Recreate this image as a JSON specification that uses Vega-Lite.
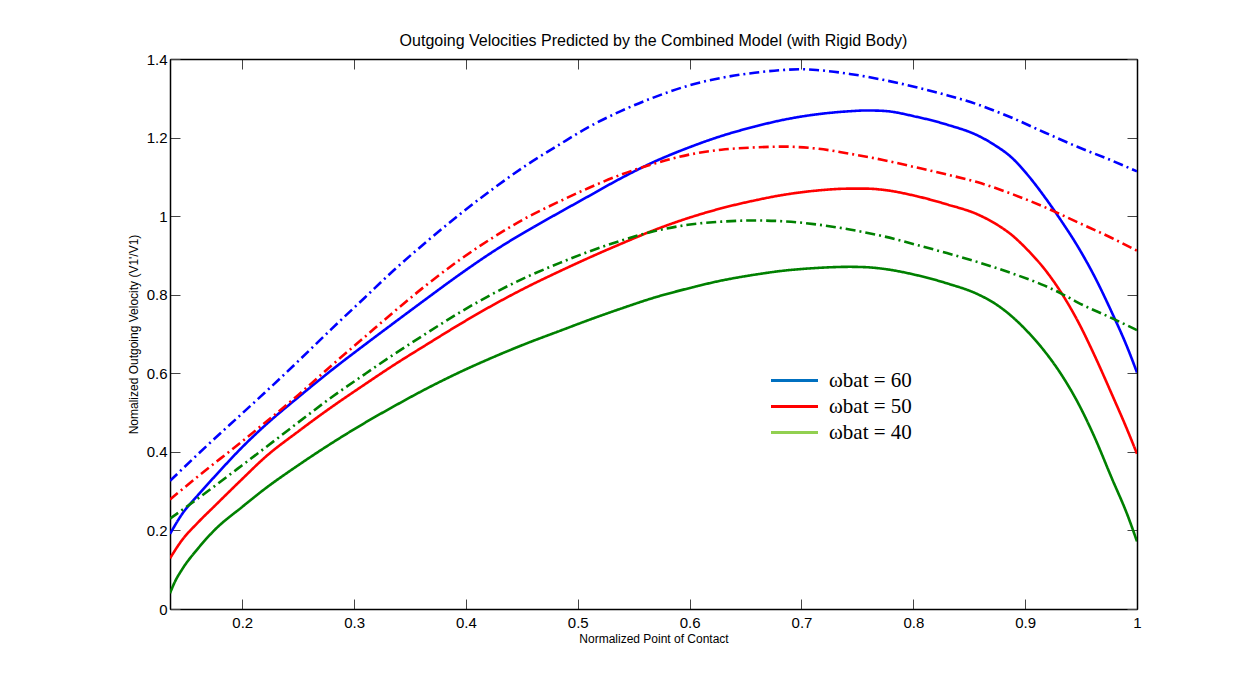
{
  "$schema": "https://vega.github.io/schema/vega-lite/v6.json",
  "autosize": {"type": "none"},
  "width": 967,
  "height": 550,
  "padding": {"left": 170, "top": 59, "right": 120, "bottom": 72},
  "background": "white",
  "title": {"text": "Outgoing Velocities Predicted by the Combined Model (with Rigid Body)", "font": "Liberation Sans", "fontSize": 16, "fontWeight": "normal", "color": "#000", "offset": 3},
  "datasets": {
    "curves": [
      {"x":0.1354,"y":0.191,"omega":"60","model":"solid"},
      {"x":0.1458,"y":0.240,"omega":"60","model":"solid"},
      {"x":0.1607,"y":0.291,"omega":"60","model":"solid"},
      {"x":0.1756,"y":0.338,"omega":"60","model":"solid"},
      {"x":0.2000,"y":0.412,"omega":"60","model":"solid"},
      {"x":0.2203,"y":0.467,"omega":"60","model":"solid"},
      {"x":0.2501,"y":0.539,"omega":"60","model":"solid"},
      {"x":0.2799,"y":0.608,"omega":"60","model":"solid"},
      {"x":0.3097,"y":0.673,"omega":"60","model":"solid"},
      {"x":0.3350,"y":0.727,"omega":"60","model":"solid"},
      {"x":0.3648,"y":0.790,"omega":"60","model":"solid"},
      {"x":0.3946,"y":0.852,"omega":"60","model":"solid"},
      {"x":0.4244,"y":0.910,"omega":"60","model":"solid"},
      {"x":0.4542,"y":0.962,"omega":"60","model":"solid"},
      {"x":0.4840,"y":1.010,"omega":"60","model":"solid"},
      {"x":0.5092,"y":1.050,"omega":"60","model":"solid"},
      {"x":0.5390,"y":1.097,"omega":"60","model":"solid"},
      {"x":0.5688,"y":1.139,"omega":"60","model":"solid"},
      {"x":0.5986,"y":1.174,"omega":"60","model":"solid"},
      {"x":0.6284,"y":1.204,"omega":"60","model":"solid"},
      {"x":0.6582,"y":1.228,"omega":"60","model":"solid"},
      {"x":0.6835,"y":1.245,"omega":"60","model":"solid"},
      {"x":0.7133,"y":1.259,"omega":"60","model":"solid"},
      {"x":0.7431,"y":1.267,"omega":"60","model":"solid"},
      {"x":0.7580,"y":1.269,"omega":"60","model":"solid"},
      {"x":0.7729,"y":1.268,"omega":"60","model":"solid"},
      {"x":0.8027,"y":1.253,"omega":"60","model":"solid"},
      {"x":0.8300,"y":1.233,"omega":"60","model":"solid"},
      {"x":0.8578,"y":1.205,"omega":"60","model":"solid"},
      {"x":0.8727,"y":1.181,"omega":"60","model":"solid"},
      {"x":0.8876,"y":1.150,"omega":"60","model":"solid"},
      {"x":0.9025,"y":1.104,"omega":"60","model":"solid"},
      {"x":0.9174,"y":1.049,"omega":"60","model":"solid"},
      {"x":0.9323,"y":0.988,"omega":"60","model":"solid"},
      {"x":0.9472,"y":0.922,"omega":"60","model":"solid"},
      {"x":0.9621,"y":0.846,"omega":"60","model":"solid"},
      {"x":0.9770,"y":0.758,"omega":"60","model":"solid"},
      {"x":0.9919,"y":0.662,"omega":"60","model":"solid"},
      {"x":1.0000,"y":0.602,"omega":"60","model":"solid"},

      {"x":0.1354,"y":0.129,"omega":"50","model":"solid"},
      {"x":0.1458,"y":0.174,"omega":"50","model":"solid"},
      {"x":0.1607,"y":0.221,"omega":"50","model":"solid"},
      {"x":0.1756,"y":0.263,"omega":"50","model":"solid"},
      {"x":0.2000,"y":0.331,"omega":"50","model":"solid"},
      {"x":0.2203,"y":0.386,"omega":"50","model":"solid"},
      {"x":0.2501,"y":0.452,"omega":"50","model":"solid"},
      {"x":0.2799,"y":0.514,"omega":"50","model":"solid"},
      {"x":0.3097,"y":0.572,"omega":"50","model":"solid"},
      {"x":0.3350,"y":0.620,"omega":"50","model":"solid"},
      {"x":0.3648,"y":0.673,"omega":"50","model":"solid"},
      {"x":0.3946,"y":0.725,"omega":"50","model":"solid"},
      {"x":0.4244,"y":0.774,"omega":"50","model":"solid"},
      {"x":0.4542,"y":0.819,"omega":"50","model":"solid"},
      {"x":0.4840,"y":0.860,"omega":"50","model":"solid"},
      {"x":0.5092,"y":0.893,"omega":"50","model":"solid"},
      {"x":0.5390,"y":0.930,"omega":"50","model":"solid"},
      {"x":0.5688,"y":0.965,"omega":"50","model":"solid"},
      {"x":0.5986,"y":0.995,"omega":"50","model":"solid"},
      {"x":0.6284,"y":1.020,"omega":"50","model":"solid"},
      {"x":0.6582,"y":1.040,"omega":"50","model":"solid"},
      {"x":0.6835,"y":1.054,"omega":"50","model":"solid"},
      {"x":0.7133,"y":1.065,"omega":"50","model":"solid"},
      {"x":0.7431,"y":1.070,"omega":"50","model":"solid"},
      {"x":0.7580,"y":1.070,"omega":"50","model":"solid"},
      {"x":0.7729,"y":1.067,"omega":"50","model":"solid"},
      {"x":0.8027,"y":1.051,"omega":"50","model":"solid"},
      {"x":0.8300,"y":1.030,"omega":"50","model":"solid"},
      {"x":0.8578,"y":1.004,"omega":"50","model":"solid"},
      {"x":0.8727,"y":0.982,"omega":"50","model":"solid"},
      {"x":0.8876,"y":0.953,"omega":"50","model":"solid"},
      {"x":0.9025,"y":0.913,"omega":"50","model":"solid"},
      {"x":0.9174,"y":0.865,"omega":"50","model":"solid"},
      {"x":0.9323,"y":0.805,"omega":"50","model":"solid"},
      {"x":0.9472,"y":0.732,"omega":"50","model":"solid"},
      {"x":0.9621,"y":0.645,"omega":"50","model":"solid"},
      {"x":0.9770,"y":0.550,"omega":"50","model":"solid"},
      {"x":0.9919,"y":0.452,"omega":"50","model":"solid"},
      {"x":1.0000,"y":0.395,"omega":"50","model":"solid"},

      {"x":0.1354,"y":0.040,"omega":"40","model":"solid"},
      {"x":0.1399,"y":0.070,"omega":"40","model":"solid"},
      {"x":0.1458,"y":0.099,"omega":"40","model":"solid"},
      {"x":0.1607,"y":0.155,"omega":"40","model":"solid"},
      {"x":0.1756,"y":0.202,"omega":"40","model":"solid"},
      {"x":0.2000,"y":0.260,"omega":"40","model":"solid"},
      {"x":0.2203,"y":0.306,"omega":"40","model":"solid"},
      {"x":0.2501,"y":0.366,"omega":"40","model":"solid"},
      {"x":0.2799,"y":0.422,"omega":"40","model":"solid"},
      {"x":0.3097,"y":0.474,"omega":"40","model":"solid"},
      {"x":0.3350,"y":0.515,"omega":"40","model":"solid"},
      {"x":0.3648,"y":0.561,"omega":"40","model":"solid"},
      {"x":0.3946,"y":0.603,"omega":"40","model":"solid"},
      {"x":0.4244,"y":0.641,"omega":"40","model":"solid"},
      {"x":0.4542,"y":0.676,"omega":"40","model":"solid"},
      {"x":0.4840,"y":0.708,"omega":"40","model":"solid"},
      {"x":0.5092,"y":0.735,"omega":"40","model":"solid"},
      {"x":0.5390,"y":0.765,"omega":"40","model":"solid"},
      {"x":0.5688,"y":0.793,"omega":"40","model":"solid"},
      {"x":0.5986,"y":0.816,"omega":"40","model":"solid"},
      {"x":0.6284,"y":0.836,"omega":"40","model":"solid"},
      {"x":0.6582,"y":0.851,"omega":"40","model":"solid"},
      {"x":0.6835,"y":0.861,"omega":"40","model":"solid"},
      {"x":0.7133,"y":0.868,"omega":"40","model":"solid"},
      {"x":0.7431,"y":0.871,"omega":"40","model":"solid"},
      {"x":0.7580,"y":0.870,"omega":"40","model":"solid"},
      {"x":0.7729,"y":0.866,"omega":"40","model":"solid"},
      {"x":0.8027,"y":0.850,"omega":"40","model":"solid"},
      {"x":0.8300,"y":0.829,"omega":"40","model":"solid"},
      {"x":0.8578,"y":0.801,"omega":"40","model":"solid"},
      {"x":0.8727,"y":0.778,"omega":"40","model":"solid"},
      {"x":0.8876,"y":0.746,"omega":"40","model":"solid"},
      {"x":0.9025,"y":0.705,"omega":"40","model":"solid"},
      {"x":0.9174,"y":0.656,"omega":"40","model":"solid"},
      {"x":0.9323,"y":0.597,"omega":"40","model":"solid"},
      {"x":0.9472,"y":0.525,"omega":"40","model":"solid"},
      {"x":0.9621,"y":0.437,"omega":"40","model":"solid"},
      {"x":0.9770,"y":0.336,"omega":"40","model":"solid"},
      {"x":0.9919,"y":0.236,"omega":"40","model":"solid"},
      {"x":1.0000,"y":0.172,"omega":"40","model":"solid"},

      {"x":0.1354,"y":0.326,"omega":"60","model":"dashdot"},
      {"x":0.1607,"y":0.395,"omega":"60","model":"dashdot"},
      {"x":0.2000,"y":0.498,"omega":"60","model":"dashdot"},
      {"x":0.2203,"y":0.551,"omega":"60","model":"dashdot"},
      {"x":0.2501,"y":0.631,"omega":"60","model":"dashdot"},
      {"x":0.2799,"y":0.713,"omega":"60","model":"dashdot"},
      {"x":0.3097,"y":0.793,"omega":"60","model":"dashdot"},
      {"x":0.3350,"y":0.861,"omega":"60","model":"dashdot"},
      {"x":0.3648,"y":0.935,"omega":"60","model":"dashdot"},
      {"x":0.3946,"y":1.005,"omega":"60","model":"dashdot"},
      {"x":0.4244,"y":1.070,"omega":"60","model":"dashdot"},
      {"x":0.4542,"y":1.130,"omega":"60","model":"dashdot"},
      {"x":0.4840,"y":1.183,"omega":"60","model":"dashdot"},
      {"x":0.5092,"y":1.226,"omega":"60","model":"dashdot"},
      {"x":0.5390,"y":1.268,"omega":"60","model":"dashdot"},
      {"x":0.5688,"y":1.303,"omega":"60","model":"dashdot"},
      {"x":0.5986,"y":1.332,"omega":"60","model":"dashdot"},
      {"x":0.6284,"y":1.352,"omega":"60","model":"dashdot"},
      {"x":0.6582,"y":1.365,"omega":"60","model":"dashdot"},
      {"x":0.6835,"y":1.372,"omega":"60","model":"dashdot"},
      {"x":0.6984,"y":1.374,"omega":"60","model":"dashdot"},
      {"x":0.7133,"y":1.372,"omega":"60","model":"dashdot"},
      {"x":0.7431,"y":1.362,"omega":"60","model":"dashdot"},
      {"x":0.7729,"y":1.347,"omega":"60","model":"dashdot"},
      {"x":0.8027,"y":1.328,"omega":"60","model":"dashdot"},
      {"x":0.8300,"y":1.308,"omega":"60","model":"dashdot"},
      {"x":0.8578,"y":1.284,"omega":"60","model":"dashdot"},
      {"x":0.8876,"y":1.251,"omega":"60","model":"dashdot"},
      {"x":0.9174,"y":1.213,"omega":"60","model":"dashdot"},
      {"x":0.9472,"y":1.176,"omega":"60","model":"dashdot"},
      {"x":0.9770,"y":1.142,"omega":"60","model":"dashdot"},
      {"x":1.0000,"y":1.114,"omega":"60","model":"dashdot"},

      {"x":0.1354,"y":0.279,"omega":"50","model":"dashdot"},
      {"x":0.1607,"y":0.338,"omega":"50","model":"dashdot"},
      {"x":0.2000,"y":0.427,"omega":"50","model":"dashdot"},
      {"x":0.2203,"y":0.474,"omega":"50","model":"dashdot"},
      {"x":0.2501,"y":0.545,"omega":"50","model":"dashdot"},
      {"x":0.2799,"y":0.620,"omega":"50","model":"dashdot"},
      {"x":0.3097,"y":0.693,"omega":"50","model":"dashdot"},
      {"x":0.3350,"y":0.755,"omega":"50","model":"dashdot"},
      {"x":0.3648,"y":0.825,"omega":"50","model":"dashdot"},
      {"x":0.3946,"y":0.889,"omega":"50","model":"dashdot"},
      {"x":0.4244,"y":0.946,"omega":"50","model":"dashdot"},
      {"x":0.4542,"y":0.996,"omega":"50","model":"dashdot"},
      {"x":0.4840,"y":1.038,"omega":"50","model":"dashdot"},
      {"x":0.5092,"y":1.071,"omega":"50","model":"dashdot"},
      {"x":0.5390,"y":1.106,"omega":"50","model":"dashdot"},
      {"x":0.5688,"y":1.134,"omega":"50","model":"dashdot"},
      {"x":0.5986,"y":1.156,"omega":"50","model":"dashdot"},
      {"x":0.6284,"y":1.169,"omega":"50","model":"dashdot"},
      {"x":0.6582,"y":1.175,"omega":"50","model":"dashdot"},
      {"x":0.6835,"y":1.177,"omega":"50","model":"dashdot"},
      {"x":0.7133,"y":1.172,"omega":"50","model":"dashdot"},
      {"x":0.7431,"y":1.159,"omega":"50","model":"dashdot"},
      {"x":0.7729,"y":1.143,"omega":"50","model":"dashdot"},
      {"x":0.8027,"y":1.124,"omega":"50","model":"dashdot"},
      {"x":0.8300,"y":1.106,"omega":"50","model":"dashdot"},
      {"x":0.8578,"y":1.086,"omega":"50","model":"dashdot"},
      {"x":0.8876,"y":1.057,"omega":"50","model":"dashdot"},
      {"x":0.9174,"y":1.023,"omega":"50","model":"dashdot"},
      {"x":0.9472,"y":0.984,"omega":"50","model":"dashdot"},
      {"x":0.9770,"y":0.945,"omega":"50","model":"dashdot"},
      {"x":1.0000,"y":0.912,"omega":"50","model":"dashdot"},

      {"x":0.1354,"y":0.230,"omega":"40","model":"dashdot"},
      {"x":0.1607,"y":0.282,"omega":"40","model":"dashdot"},
      {"x":0.2000,"y":0.366,"omega":"40","model":"dashdot"},
      {"x":0.2203,"y":0.410,"omega":"40","model":"dashdot"},
      {"x":0.2501,"y":0.475,"omega":"40","model":"dashdot"},
      {"x":0.2799,"y":0.539,"omega":"40","model":"dashdot"},
      {"x":0.3097,"y":0.598,"omega":"40","model":"dashdot"},
      {"x":0.3350,"y":0.647,"omega":"40","model":"dashdot"},
      {"x":0.3648,"y":0.702,"omega":"40","model":"dashdot"},
      {"x":0.3946,"y":0.755,"omega":"40","model":"dashdot"},
      {"x":0.4244,"y":0.803,"omega":"40","model":"dashdot"},
      {"x":0.4542,"y":0.845,"omega":"40","model":"dashdot"},
      {"x":0.4840,"y":0.881,"omega":"40","model":"dashdot"},
      {"x":0.5092,"y":0.909,"omega":"40","model":"dashdot"},
      {"x":0.5390,"y":0.938,"omega":"40","model":"dashdot"},
      {"x":0.5688,"y":0.962,"omega":"40","model":"dashdot"},
      {"x":0.5986,"y":0.978,"omega":"40","model":"dashdot"},
      {"x":0.6284,"y":0.986,"omega":"40","model":"dashdot"},
      {"x":0.6582,"y":0.989,"omega":"40","model":"dashdot"},
      {"x":0.6835,"y":0.987,"omega":"40","model":"dashdot"},
      {"x":0.7133,"y":0.979,"omega":"40","model":"dashdot"},
      {"x":0.7431,"y":0.966,"omega":"40","model":"dashdot"},
      {"x":0.7729,"y":0.949,"omega":"40","model":"dashdot"},
      {"x":0.8027,"y":0.927,"omega":"40","model":"dashdot"},
      {"x":0.8300,"y":0.906,"omega":"40","model":"dashdot"},
      {"x":0.8578,"y":0.883,"omega":"40","model":"dashdot"},
      {"x":0.8876,"y":0.855,"omega":"40","model":"dashdot"},
      {"x":0.9174,"y":0.823,"omega":"40","model":"dashdot"},
      {"x":0.9323,"y":0.803,"omega":"40","model":"dashdot"},
      {"x":0.9472,"y":0.780,"omega":"40","model":"dashdot"},
      {"x":0.9770,"y":0.741,"omega":"40","model":"dashdot"},
      {"x":1.0000,"y":0.710,"omega":"40","model":"dashdot"}
    ]
  },
  "data": {"name": "curves"},
  "layer": [
    {
      "mark": {"type": "line", "strokeWidth": 2.6, "interpolate": "monotone", "clip": true},
      "encoding": {
        "x": {"field": "x", "type": "quantitative", "scale": {"domain": [0.1354, 1], "nice": false, "zero": false},
              "axis": {"orient": "bottom", "values": [0.2,0.3,0.4,0.5,0.6,0.7,0.8,0.9,1], "format": "~g", "title": "Normalized Point of Contact", "labelPadding": 16, "titlePadding": 3}},
        "y": {"field": "y", "type": "quantitative", "scale": {"domain": [0, 1.4], "nice": false},
              "axis": {"orient": "left", "values": [0,0.2,0.4,0.6,0.8,1,1.2,1.4], "format": "~g", "title": "Nomalized Outgoing Velocity (V1'/V1)", "labelPadding": 13, "titlePadding": 6}},
        "color": {"field": "omega", "type": "nominal", "scale": {"domain": ["60","50","40"], "range": ["#0000FF","#FF0000","#008000"]}, "legend": null},
        "strokeDash": {"field": "model", "type": "nominal", "scale": {"domain": ["solid","dashdot"], "range": [[1,0],[10,4,2,4]]}, "legend": null}
      }
    },
    {
      "transform": [{"filter": "datum.model === 'solid'"}],
      "mark": {"type": "line", "opacity": 0},
      "encoding": {
        "x": {"field": "x", "type": "quantitative",
              "axis": {"orient": "top", "values": [0.2,0.3,0.4,0.5,0.6,0.7,0.8,0.9,1], "labels": false, "title": null}},
        "y": {"field": "y", "type": "quantitative",
              "axis": {"orient": "right", "values": [0,0.2,0.4,0.6,0.8,1,1.2,1.4], "labels": false, "title": null}},
        "color": {"field": "omega", "type": "nominal", "scale": {"domain": ["60","50","40"], "range": ["#0070C0","#FF0000","#92D050"]},
                  "legend": {"orient": "none", "legendX": 613, "legendY": 310, "title": null, "symbolType": "M-2.35,0L2.35,0", "symbolSize": 400, "symbolStrokeWidth": 3, "symbolOpacity": 1, "labelFont": "Liberation Serif", "labelFontSize": 21, "labelColor": "#000", "labelOffset": 23, "rowPadding": 4, "labelExpr": "'ωbat = ' + datum.label"}}
      }
    }
  ],
  "resolve": {"scale": {"color": "independent"}, "axis": {"x": "independent", "y": "independent"}},
  "config": {
    "view": {"stroke": "#000", "strokeWidth": 1},
    "axis": {"labelFont": "Liberation Sans", "labelFontSize": 15, "labelColor": "#000", "titleFont": "Liberation Sans", "titleFontSize": 12, "titleFontWeight": "normal", "titleColor": "#000", "domainColor": "#000", "domainWidth": 1.5, "tickColor": "#444", "tickSize": -10, "tickWidth": 1, "grid": false, "labelFlush": false, "labelOverlap": false}
  }
}
